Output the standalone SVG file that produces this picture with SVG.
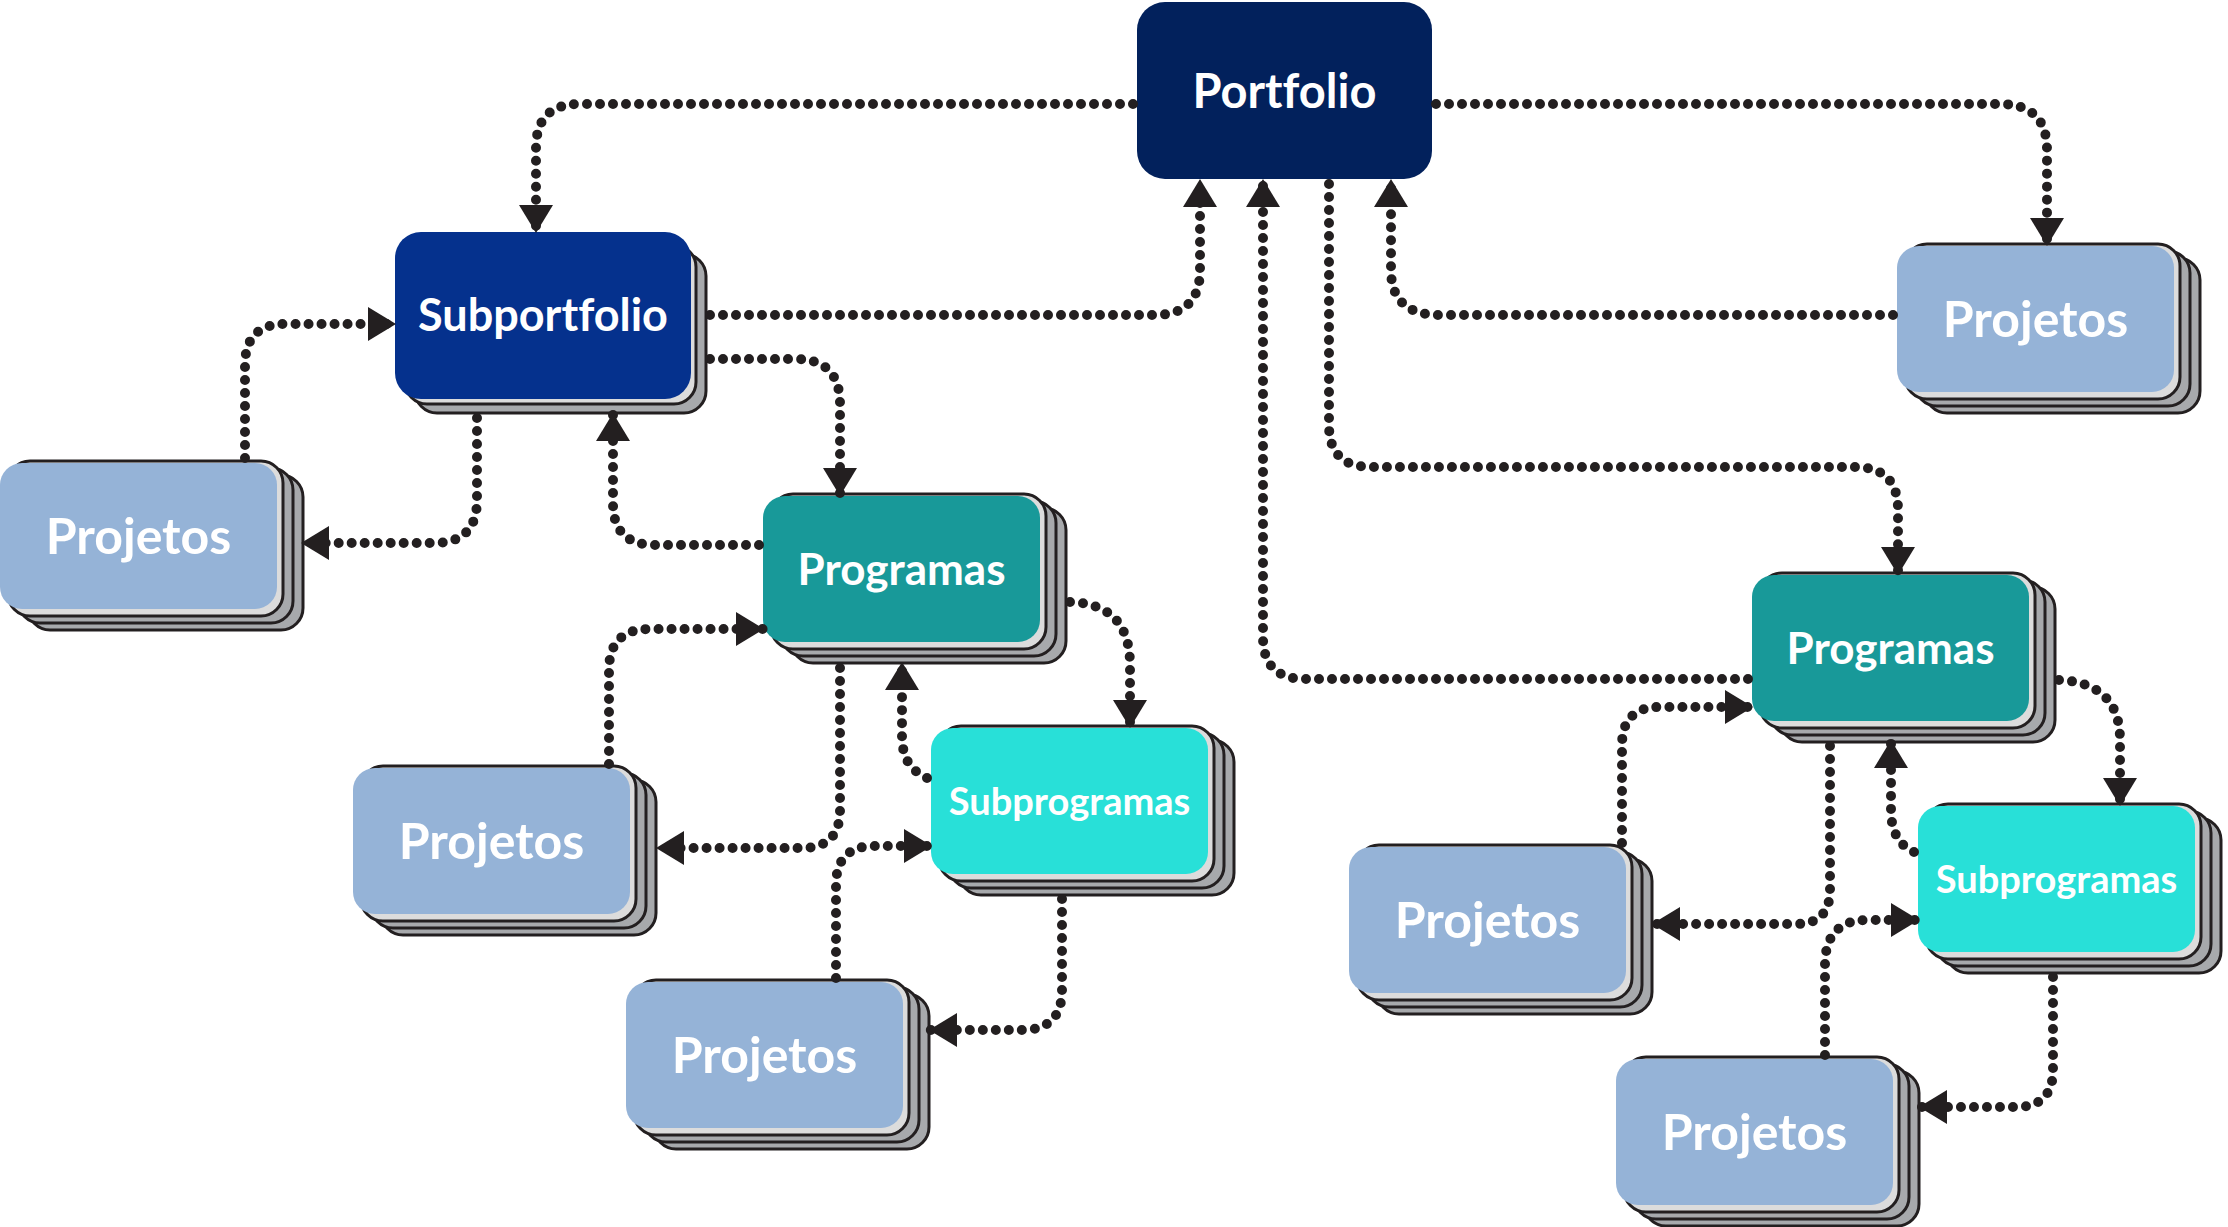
<svg xmlns="http://www.w3.org/2000/svg" xmlns:xlink="http://www.w3.org/1999/xlink" width="2228" height="1227" viewBox="0 0 2228 1227">
<style>
  .sh1 { fill: #dcdcdc; stroke: #231f20; stroke-width: 3; }
  .sh2 { fill: #a7a9ac; stroke: #231f20; stroke-width: 3; }
  .lbl { font-family: Lato, "Open Sans", "Liberation Sans", sans-serif; font-weight: bold; fill: #ffffff; text-anchor: middle; font-variant-ligatures: none; font-feature-settings: "liga" 0; }
  .pj { fill: #95b3d7; }
  .pg { fill: #189999; }
  .sp { fill: #28e0d8; }
  .con { fill: none; stroke: #231f20; stroke-width: 10; stroke-linecap: round; stroke-dasharray: 0 13; marker-end: url(#ah); }
</style>
<defs>
  <marker id="ah" markerUnits="userSpaceOnUse" markerWidth="28" markerHeight="34" viewBox="0 0 28 34" refX="27" refY="17" orient="auto">
    <path d="M0,0 L28,17 L0,34 Z" fill="#231f20"/>
  </marker>
  <g id="stk">
    <rect class="sh2" x="28" y="12" width="275" height="155" rx="22"/>
    <rect class="sh2" x="18" y="5" width="275" height="155" rx="22"/>
    <rect class="sh1" x="8" y="-2" width="275" height="155" rx="22"/>
  </g>
</defs>
<rect width="2228" height="1227" fill="#ffffff"/>

<g id="portfolio">
  <rect x="1137" y="2" width="295" height="177" rx="28" fill="#02215c"/>
  <text class="lbl" x="1284.5" y="108" font-size="47">Portfolio</text>
</g>

<g id="subportfolio">
  <rect class="sh2" x="415" y="254" width="291" height="159" rx="22"/>
  <rect class="sh1" x="405" y="245" width="291" height="159" rx="22"/>
  <rect x="395" y="232" width="296" height="167" rx="26" fill="#05318d"/>
  <text class="lbl" x="543" y="331" font-size="45">Subportfolio</text>
</g>

<g id="projetos-1">
  <use xlink:href="#stk" x="0" y="463"/>
  <rect class="pj" x="0" y="463" width="277" height="146" rx="22"/>
  <text class="lbl" x="138.5" y="554" font-size="50">Projetos</text>
</g>

<g id="programas-1">
  <use xlink:href="#stk" x="763" y="496"/>
  <rect class="pg" x="763" y="496" width="277" height="146" rx="22"/>
  <text class="lbl" x="901.5" y="585" font-size="44">Programas</text>
</g>

<g id="projetos-2">
  <use xlink:href="#stk" x="353" y="768"/>
  <rect class="pj" x="353" y="768" width="277" height="146" rx="22"/>
  <text class="lbl" x="491.5" y="859" font-size="50">Projetos</text>
</g>

<g id="subprogramas-1">
  <use xlink:href="#stk" x="931" y="728"/>
  <rect class="sp" x="931" y="728" width="277" height="146" rx="22"/>
  <text class="lbl" x="1069.5" y="815" font-size="38">Subprogramas</text>
</g>

<g id="projetos-3">
  <use xlink:href="#stk" x="626" y="982"/>
  <rect class="pj" x="626" y="982" width="277" height="146" rx="22"/>
  <text class="lbl" x="764.5" y="1073" font-size="50">Projetos</text>
</g>

<g id="projetos-4">
  <use xlink:href="#stk" x="1897" y="246"/>
  <rect class="pj" x="1897" y="246" width="277" height="146" rx="22"/>
  <text class="lbl" x="2035.5" y="337" font-size="50">Projetos</text>
</g>

<g id="programas-2">
  <use xlink:href="#stk" x="1752" y="575"/>
  <rect class="pg" x="1752" y="575" width="277" height="146" rx="22"/>
  <text class="lbl" x="1890.5" y="664" font-size="44">Programas</text>
</g>

<g id="projetos-5">
  <use xlink:href="#stk" x="1349" y="847"/>
  <rect class="pj" x="1349" y="847" width="277" height="146" rx="22"/>
  <text class="lbl" x="1487.5" y="938" font-size="50">Projetos</text>
</g>

<g id="subprogramas-2">
  <use xlink:href="#stk" x="1918" y="806"/>
  <rect class="sp" x="1918" y="806" width="277" height="146" rx="22"/>
  <text class="lbl" x="2056.5" y="893" font-size="38">Subprogramas</text>
</g>

<g id="projetos-6">
  <use xlink:href="#stk" x="1616" y="1059"/>
  <rect class="pj" x="1616" y="1059" width="277" height="146" rx="22"/>
  <text class="lbl" x="1754.5" y="1150" font-size="50">Projetos</text>
</g>

<g id="connectors">
  <path class="con" d="M1133,104 H580 Q536,104 536,148 V232"/>
  <path class="con" d="M710,315 H1155 Q1200,315 1200,270 V180"/>
  <path class="con" d="M710,359 H795 Q840,359 840,404 V495"/>
  <path class="con" d="M477,418 V500 Q477,543 434,543 H302"/>
  <path class="con" d="M245,458 V365 Q245,324 286,324 H395"/>
  <path class="con" d="M759,545 H655 Q613,545 613,503 V414"/>
  <path class="con" d="M609,764 V670 Q609,629 650,629 H763"/>
  <path class="con" d="M840,668 V810 Q840,848 802,848 H657"/>
  <path class="con" d="M927,778 C910,770 902,758 902,735 V663"/>
  <path class="con" d="M1070,602 Q1130,604 1130,665 V727"/>
  <path class="con" d="M836,978 V885 Q836,846 875,846 H931"/>
  <path class="con" d="M1062,899 V990 Q1062,1030 1022,1030 H930"/>
  <path class="con" d="M1436,104 H2000 Q2047,104 2047,150 V245"/>
  <path class="con" d="M1893,315 H1440 Q1391,315 1391,270 V180"/>
  <path class="con" d="M1329,184 V425 Q1329,467 1371,467 H1855 Q1898,467 1898,510 V574"/>
  <path class="con" d="M1748,679 H1305 Q1263,679 1263,637 V180"/>
  <path class="con" d="M1622,843 V745 Q1622,707 1660,707 H1752"/>
  <path class="con" d="M1830,746 V890 Q1830,924 1796,924 H1653"/>
  <path class="con" d="M1914,852 C1898,845 1891,830 1891,810 V741"/>
  <path class="con" d="M2059,680 Q2120,683 2120,740 V805"/>
  <path class="con" d="M1825,1055 V965 Q1825,920 1868,920 H1918"/>
  <path class="con" d="M2053,977 V1070 Q2053,1107 2016,1107 H1920"/>
</g>
</svg>
